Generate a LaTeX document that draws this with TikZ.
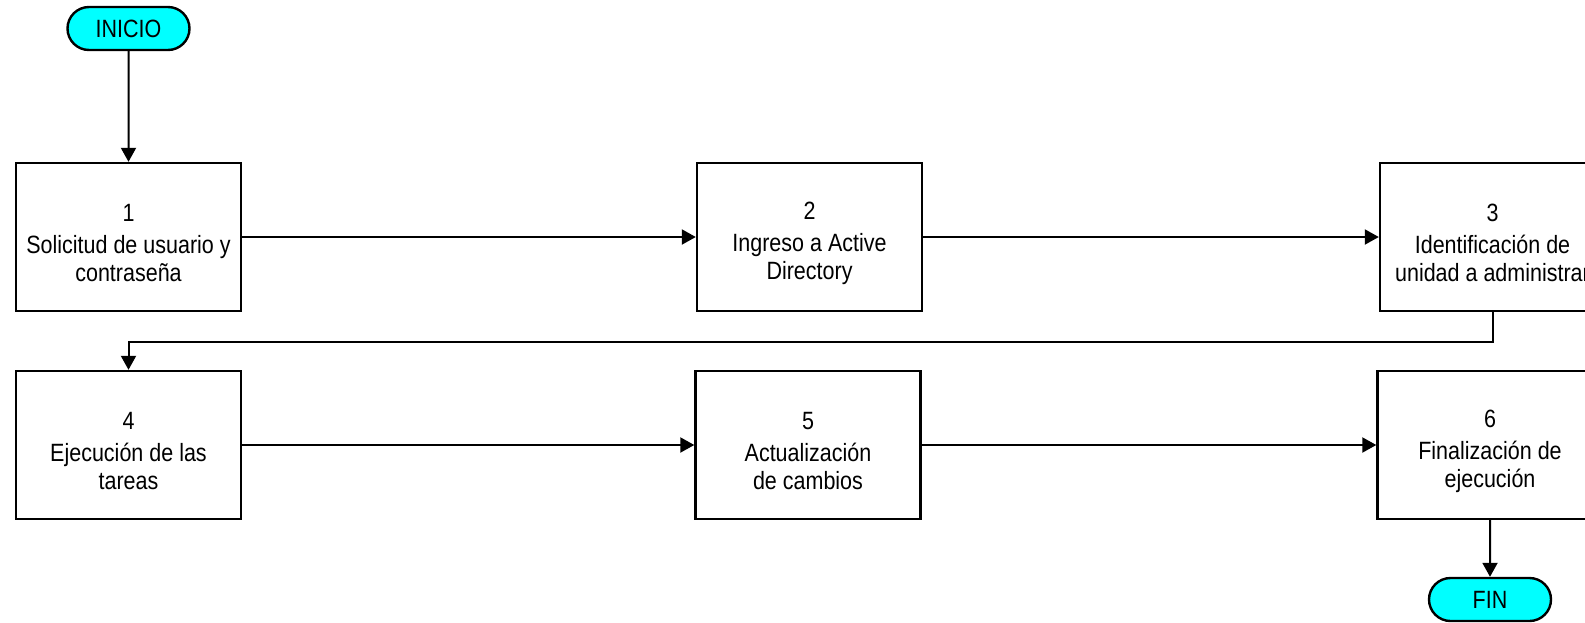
\documentclass[tikz,border=0pt]{standalone}
\usepackage{fontspec}
\setmainfont{Liberation Sans}[FakeStretch=0.86]
\usepackage{tikz}
\usetikzlibrary{arrows.meta,shapes.misc}

\definecolor{aqua}{RGB}{0,255,255}
\newcommand{\arriba}{\rule{0pt}{15pt}}

\tikzset{
  paso/.style={draw, line width=1.2pt, minimum width=112.5pt, minimum height=74pt,
    align=center, font=\fontsize{12.5}{14}\selectfont},
  terminal/.style={draw, line width=1.2pt, fill=aqua, rounded rectangle,
    minimum width=61pt, minimum height=21.5pt, inner sep=0pt,
    font=\fontsize{12.5}{14}\selectfont},
  flecha/.style={line width=1pt, -{Triangle[length=7pt,width=7.5pt]}}
}

\begin{document}
\begin{tikzpicture}[x=0.5pt,y=-0.5pt]
    \useasboundingbox (0,0) rectangle (1585,622);

    \node[terminal] (inicio) at (128.5,28.5) {INICIO};
    \node[paso] (solic)   at (128.5,237) {\arriba 1\\[2pt]Solicitud de usuario y\\contraseña};
    \node[paso] (ingreso) at (809.5,237) {\arriba 2\\[2pt]Ingreso a Active\\Directory};
    \node[paso] (ident)   at (1492.5,237) {\arriba 3\\[2pt]Identificación de\\unidad a administrar};
    \node[paso] (ejec)    at (128.5,445) {\arriba 4\\[2pt]Ejecución de las\\tareas};
    \node[paso] (actual)  at (808,445) {\arriba 5\\[2pt]Actualización\\de cambios};
    \node[paso] (final)   at (1490,445) {\arriba 6\\[2pt]Finalización de\\ejecución};
    \node[terminal] (fin) at (1490,599.5) {FIN};

    %edges
    \draw[flecha] (inicio) -- (solic);
    \draw[flecha] (solic) -- (ingreso);
    \draw[flecha] (ingreso) -- (ident);
    \draw[flecha] (ident.south) -- ++(0,30) -| (ejec.north);
    \draw[flecha] (ejec) -- (actual);
    \draw[flecha] (actual) -- (final);
    \draw[flecha] (final) -- (fin);
\end{tikzpicture}
\end{document}
